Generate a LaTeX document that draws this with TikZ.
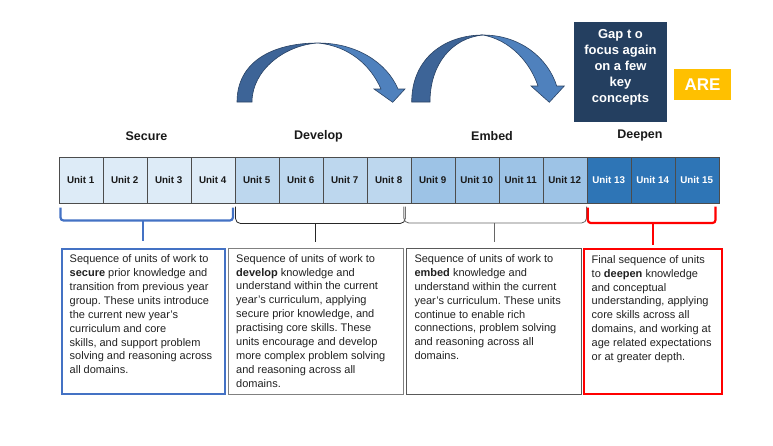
\documentclass[tikz,border=0pt]{standalone}
\usepackage{fontspec}
\setmainfont{Liberation Sans}
\usetikzlibrary{calc}
\frenchspacing
\definecolor{grp0}{HTML}{DDEBF7}
\definecolor{grp1}{HTML}{BDD7EE}
\definecolor{grp2}{HTML}{9DC3E6}
\definecolor{grp3}{HTML}{2E75B6}
\definecolor{grptxt0}{HTML}{1A1A1A}
\definecolor{grptxt1}{HTML}{1A1A1A}
\definecolor{grptxt2}{HTML}{1A1A1A}
\definecolor{grptxt3}{HTML}{FFFFFF}
\definecolor{secblue}{HTML}{4472C4}
\definecolor{deepred}{HTML}{FF0000}
\definecolor{gapnavy}{HTML}{243F60}
\definecolor{aregold}{HTML}{FFC000}
\definecolor{arrowdark}{HTML}{3D6497}
\definecolor{arrowlight}{HTML}{4F81BD}
\definecolor{arrowline}{HTML}{2A4365}
\tikzset{
  unitbox/.style={draw=black!70, minimum width=44pt, minimum height=46pt, inner sep=0pt,
    font=\bfseries\fontsize{9.8}{11}\selectfont},
  phase/.style={font=\bfseries\fontsize{12.5}{14}\selectfont, text=black!90},
  descbox/.style={anchor=north west, inner xsep=8pt, inner ysep=6pt,
    font=\fontsize{11}{13.9}\selectfont, text=black!87},
  gapbox/.style={fill=gapnavy, minimum width=93pt, minimum height=100pt, inner sep=0pt},
  gaptext/.style={text=white, align=center, font=\bfseries\fontsize{13}{16}\selectfont},
  arebox/.style={fill=aregold, text=white, minimum width=57pt, minimum height=30.7pt,
    inner sep=0pt, font=\bfseries\fontsize{17}{19}\selectfont},
  thinbrace/.style={line width=0.8pt, rounded corners=5pt},
  boldbrace/.style={line width=2.2pt, rounded corners=3pt},
  arrowpart/.style={draw=arrowline, line width=0.6pt}
}
\begin{document}
\begin{tikzpicture}[x=1pt,y=-1pt]
\useasboundingbox (0,0) rectangle (773,445);

% curved arrows
\filldraw[arrowpart, fill=arrowlight] (318,43) .. controls (357,43) and (387,63) .. (398,89) -- (405,89) -- (392.7,102.3) -- (374,89) -- (381,89) .. controls (370,64) and (348,46) .. (318,43) -- cycle;
\filldraw[arrowpart, fill=arrowdark] (237,102) .. controls (237,62) and (272,43) .. (318,43) .. controls (285,45) and (252,70) .. (252,102) -- cycle;
\filldraw[arrowpart, fill=arrowlight] (483,35) .. controls (520,35) and (548,58) .. (556.7,86) -- (564.3,86) -- (549.3,102.3) -- (531,86) -- (538,86) .. controls (530,62) and (510,40) .. (483,35) -- cycle;
\filldraw[arrowpart, fill=arrowdark] (411.7,102) .. controls (411.7,58) and (445,35) .. (483,35) .. controls (452,38) and (430,64) .. (430,102) -- cycle;

% gap and ARE
\node[gapbox] (gap) at (620.5,72) {};
\node[gaptext] (gaptxt) at ([yshift=5pt]gap.center) {Gap t o\\focus again\\on a few\\key\\concepts};
\node[arebox] (are) at (702.5,84.3) {ARE};

% phase headings
\node[phase] (hsecure) at (146.5,136) {Secure};
\node[phase] (hdevelop) at (318.5,136) {Develop};
\node[phase] (hembed) at (492,136) {Embed};
\node[phase] (hdeepen) at (640,135) {Deepen};

% units
\foreach \i [evaluate=\i as \g using {int((\i-1)/4)}] in {1,...,15} {
  \node[unitbox, fill=grp\g, text=grptxt\g] (u\i) at ({58.7+44*(\i-0.5)},180.3) {Unit \i};
}

% description boxes
\node[descbox, draw=secblue, line width=2pt] (secbox) at (60.7,247.7) {\parbox[t][133pt][t]{147pt}{\raggedright
Sequence of units of work to\\
\textbf{secure} prior knowledge and\\
transition from previous year\\
group. These units introduce\\
the current new year's\\
curriculum and core\\
skills, and support problem\\
solving and reasoning across\\
all domains.}};
\node[descbox, draw=black!50, line width=1pt] (devbox) at (227.7,247.7) {\parbox[t][134.6pt][t]{159pt}{\raggedright
Sequence of units of work to\\
\textbf{develop} knowledge and\\
understand within the current\\
year's curriculum, applying\\
secure prior knowledge, and\\
practising core skills. These\\
units encourage and develop\\
more complex problem solving\\
and reasoning across all\\
domains.}};
\node[descbox, draw=black!65, line width=1pt] (embbox) at (406,248) {\parbox[t][134pt][t]{159pt}{\raggedright
Sequence of units of work to\\
\textbf{embed} knowledge and\\
understand within the current\\
year's curriculum. These units\\
continue to enable rich\\
connections, problem solving\\
and reasoning across all\\
domains.}};
\node[descbox, draw=deepred, line width=2pt] (deepbox) at (582.7,248.3) {\parbox[t][133pt][t]{122.3pt}{\raggedright
Final sequence of units\\
to \textbf{deepen} knowledge\\
and conceptual\\
understanding, applying\\
core skills across all\\
domains, and working at\\
age related expectations\\
or at greater depth.}};

% braces from unit groups to boxes
\draw[boldbrace, secblue] ([shift={(2,4)}]u1.south west) -- ([shift={(2,17)}]u1.south west) -- ([shift={(-2,17)}]u4.south east) -- ([shift={(-2,4)}]u4.south east);
\draw[secblue, line width=2.2pt] (secbox.north |- 0,220) -- ([yshift=7pt]secbox.north);
\draw[thinbrace, black!85] ([shift={(1,3)}]u5.south west) -- ([shift={(1,20)}]u5.south west) -- ([shift={(-5.7,20)}]u8.south east) -- ([shift={(-5.7,3)}]u8.south east);
\draw[black!85, line width=0.8pt] (devbox.north |- 0,223.3) -- ([yshift=6pt]devbox.north);
\draw[thinbrace, black!60] ([shift={(-6.7,3)}]u9.south west) -- ([shift={(-6.7,19.5)}]u9.south west) -- ([shift={(-0.3,19.5)}]u12.south east) -- ([shift={(-0.3,3)}]u12.south east);
\draw[black!60, line width=0.8pt] (embbox.north |- 0,222.8) -- ([yshift=6pt]embbox.north);
\draw[boldbrace, deepred] ([shift={(1.3,4)}]u13.south west) -- ([shift={(1.3,19.5)}]u13.south west) -- ([shift={(-3.4,19.5)}]u15.south east) -- ([shift={(-3.4,3)}]u15.south east);
\draw[deepred, line width=2.2pt] (deepbox.north |- 0,222.8) -- ([yshift=3pt]deepbox.north);
\end{tikzpicture}
\end{document}
